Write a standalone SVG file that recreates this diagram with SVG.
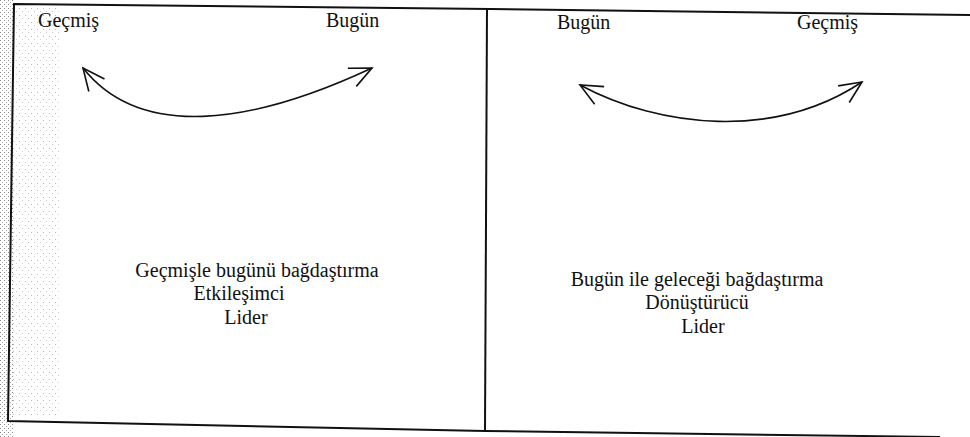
<svg xmlns="http://www.w3.org/2000/svg" width="970" height="437" viewBox="0 0 970 437">
<style>
.lbl{font-family:"Liberation Serif","Times New Roman",serif;font-size:20px;fill:#111}
.mid{text-anchor:middle}
.frame{fill:none;stroke:#111;stroke-width:2}
.arc{fill:none;stroke:#111;stroke-width:1.6}
</style>
<defs>
<pattern id="dots" width="4" height="4" patternUnits="userSpaceOnUse">
<rect x="0" y="0" width="1" height="1" fill="#888"/>
<rect x="2" y="2" width="1" height="1" fill="#aaa"/>
</pattern>
<pattern id="dots2" width="6" height="7" patternUnits="userSpaceOnUse">
<rect x="1" y="1" width="1" height="1" fill="#bbb"/>
<rect x="4" y="4" width="1" height="1" fill="#ccc"/>
</pattern>
<marker id="vh" viewBox="0 0 26 26" refX="24" refY="13" markerWidth="26" markerHeight="26" markerUnits="userSpaceOnUse" orient="auto-start-reverse">
<path d="M2,3 L24,13 L2,23" fill="none" stroke="#111" stroke-width="1.6"/>
</marker>
</defs>
<rect x="0" y="0" width="970" height="437" fill="#fff"/>
<rect x="0" y="0" width="13" height="437" fill="url(#dots)"/>
<rect x="13" y="5" width="48" height="410" fill="url(#dots2)"/>
<g id="frame">
<polyline class="frame" points="970,15 490,9 14,4 8,421 485,431 940,437"/>
<line class="frame" x1="487" y1="9" x2="485" y2="431"/>
</g>
<g id="left-panel">
<text class="lbl" x="38" y="27">Geçmiş</text>
<text class="lbl" x="326" y="27">Bugün</text>
<text class="lbl mid" x="257" y="277">Geçmişle bugünü bağdaştırma</text>
<text class="lbl mid" x="239" y="300">Etkileşimci</text>
<text class="lbl mid" x="246" y="324">Lider</text>
</g>
<g id="right-panel">
<text class="lbl" x="557" y="29">Bugün</text>
<text class="lbl" x="797" y="29">Geçmiş</text>
<text class="lbl mid" x="697" y="286">Bugün ile geleceği bağdaştırma</text>
<text class="lbl mid" x="697" y="309">Dönüştürücü</text>
<text class="lbl mid" x="703" y="333">Lider</text>
</g>
<g id="connectors">
<path class="arc" d="M83,68 C140,140 250,125 372,68" marker-start="url(#vh)" marker-end="url(#vh)"/>
<path class="arc" d="M580,85 C660,128 775,140 862,82" marker-start="url(#vh)" marker-end="url(#vh)"/>
</g>
</svg>
